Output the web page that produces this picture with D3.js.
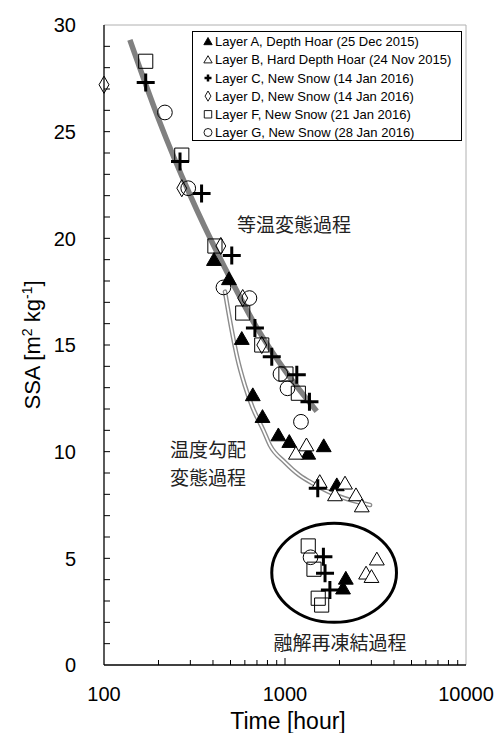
<!DOCTYPE html>
<html>
<head>
<meta charset="utf-8">
<script src="https://cdn.jsdelivr.net/npm/d3@7"></script>
<style>
  body { margin: 0; background: #fff; }
  svg text { font-family: "Liberation Sans", Arial, sans-serif; }
  .jp { font-family: "Noto Sans CJK JP", sans-serif; }
</style>
</head>
<body>
<div id="chart"></div>
<script>
const w = 499, h = 733;

// values: [time in hours, SSA]
const layerA = [[405, 19.0], [490, 18.1], [577, 15.3], [664, 12.66], [751, 11.64], [919, 10.78],
  [1056, 10.47], [1344, 9.92], [1637, 10.27], [1933, 8.44], [2168, 4.06], [2092, 3.6]];
const layerB = [[1314, 10.31], [1149, 9.92], [1556, 8.59], [2146, 8.52], [1889, 7.97], [2467, 7.97],
  [2656, 7.45], [3218, 4.96], [2805, 4.3], [3005, 4.14]];
const layerC = [[170, 27.3], [263, 23.6], [346, 22.1], [508, 19.2], [682, 15.8], [845, 14.45],
  [1162, 13.6], [1365, 12.34], [1517, 8.28], [1630, 5.08], [1664, 4.3], [1770, 3.52]];
const layerD = [[100, 27.2], [269, 22.35], [442, 19.64], [584, 17.2], [744, 15.0]];
const layerF = [[170, 28.3], [269, 23.9], [410, 19.64], [584, 16.5], [744, 15.0], [1012, 13.64],
  [1185, 12.74], [1344, 5.58], [1446, 4.49], [1526, 3.13], [1594, 2.81]];
const layerG = [[217, 25.9], [292, 22.35], [457, 17.7], [636, 17.2], [944, 13.64], [1032, 12.97],
  [1225, 11.4], [1384, 5.05]];

// hand drawn guide lines
const isoLine = [[139, 29.3], [200, 25.6], [300, 22.0], [500, 18.1], [700, 15.8], [1000, 13.8], [1497, 11.9]];
const tgLine = [[466, 17.5], [505, 15.8], [545, 14.4], [600, 13.1], [660, 12.1], [760, 11.0], [826, 10.3],
  [1000, 9.5], [1200, 8.9], [1434, 8.5], [2000, 7.9], [2950, 7.5]];
// melt-freeze ellipse: [x min, x max], [y min, y max]
const meltX = [845, 4130], meltY = [2.0, 6.65];

const legendLabels = [
  "Layer A, Depth Hoar (25 Dec 2015)",
  "Layer B, Hard Depth Hoar (24 Nov 2015)",
  "Layer C, New Snow (14 Jan 2016)",
  "Layer D, New Snow (14 Jan 2016)",
  "Layer F, New Snow (21 Jan 2016)",
  "Layer G, New Snow (28 Jan 2016)"
];
const xTicks = [100, 1000, 10000];
const yTicks = [0, 5, 10, 15, 20, 25, 30];

const x = d3.scaleLog().domain([100, 10000]).range([104, 466]);
const y = d3.scaleLinear().domain([0, 30]).range([665, 25]);

const svg = d3.select("#chart").append("svg").attr("width", w).attr("height", h);

// frame
svg.append("line").attr("x1", x(100)).attr("x2", x(10000)).attr("y1", y(30)).attr("y2", y(30))
  .attr("stroke", "#b0b0b0");
svg.append("line").attr("x1", x(10000)).attr("x2", x(10000)).attr("y1", y(30)).attr("y2", y(0))
  .attr("stroke", "#b0b0b0");

// y axis, ticks inside
const yMinor = d3.range(1, 30);
svg.append("g").selectAll("line").data(yMinor).join("line")
  .attr("x1", x(100)).attr("x2", x(100) + 6)
  .attr("y1", d => y(d)).attr("y2", d => y(d)).attr("stroke", "#000");
svg.append("line").attr("x1", x(100)).attr("x2", x(100)).attr("y1", y(30)).attr("y2", y(0))
  .attr("stroke", "#000").attr("stroke-width", 1.3);
svg.append("g").selectAll("text").data(yTicks).join("text")
  .attr("x", 76).attr("y", d => y(d)).attr("dy", "0.36em")
  .attr("text-anchor", "end").attr("font-size", 20).text(d => d);

// x axis, ticks inside
const xMinor = [];
[100, 1000].forEach(b => { for (let k = 2; k <= 9; k++) xMinor.push(b * k); });
svg.append("g").selectAll("line").data(xMinor).join("line")
  .attr("x1", d => x(d)).attr("x2", d => x(d))
  .attr("y1", y(0)).attr("y2", y(0) - 5).attr("stroke", "#000");
svg.append("line").attr("x1", x(1000)).attr("x2", x(1000)).attr("y1", y(0)).attr("y2", y(0) - 7)
  .attr("stroke", "#000");
svg.append("line").attr("x1", x(100)).attr("x2", x(10000)).attr("y1", y(0)).attr("y2", y(0))
  .attr("stroke", "#000").attr("stroke-width", 1.3);
svg.append("g").selectAll("text").data(xTicks).join("text")
  .attr("x", d => x(d)).attr("y", 701)
  .attr("text-anchor", "middle").attr("font-size", 20).text(d => d);

// axis titles
svg.append("text").attr("x", 288).attr("y", 729).attr("text-anchor", "middle")
  .attr("font-size", 23).text("Time [hour]");
const yt = svg.append("text").attr("transform", `translate(40,${(y(0) + y(30)) / 2}) rotate(-90)`)
  .attr("text-anchor", "middle").attr("font-size", 22);
yt.append("tspan").text("SSA [m");
yt.append("tspan").attr("font-size", 14).attr("dy", -8).text("2");
yt.append("tspan").attr("dy", 8).text(" kg");
yt.append("tspan").attr("font-size", 14).attr("dy", -8).text("-1");
yt.append("tspan").attr("dy", 8).text("]");

// guide lines
const line = d3.line().x(d => x(d[0])).y(d => y(d[1])).curve(d3.curveMonotoneX);
svg.append("path").attr("d", line(tgLine)).attr("fill", "none")
  .attr("stroke", "#8c8c8c").attr("stroke-width", 4.6).attr("stroke-linecap", "round");
svg.append("path").attr("d", line(tgLine)).attr("fill", "none")
  .attr("stroke", "#fff").attr("stroke-width", 1.8).attr("stroke-linecap", "round");
svg.append("path").attr("d", line(isoLine)).attr("fill", "none")
  .attr("stroke", "#808080").attr("stroke-width", 5.5);

// melt-freeze ellipse
svg.append("ellipse")
  .attr("cx", (x(meltX[0]) + x(meltX[1])) / 2).attr("cy", (y(meltY[0]) + y(meltY[1])) / 2)
  .attr("rx", (x(meltX[1]) - x(meltX[0])) / 2).attr("ry", (y(meltY[0]) - y(meltY[1])) / 2)
  .attr("fill", "none").attr("stroke", "#000").attr("stroke-width", 3);

// markers
const sym = {
  A: { type: d3.symbolTriangle, size: 95, fill: "#000", sw: 1 },
  B: { type: d3.symbolTriangle, size: 95, fill: "#fff", sw: 1 },
  C: { type: d3.symbolCross, size: 0, fill: "none", sw: 3 },
  D: { type: d3.symbolDiamond, size: 85, fill: "none", sw: 1 },
  F: { type: d3.symbolSquare, size: 200, fill: "none", sw: 1 },
  G: { type: d3.symbolCircle, size: 170, fill: "none", sw: 1 }
};

function plusPath(r) {
  return `M${-r},0H${r}M0,${-r}V${r}`;
}

function drawLayer(data, key) {
  const s = sym[key];
  const g = svg.append("g");
  g.selectAll("path").data(data).join("path")
    .attr("transform", d => `translate(${x(d[0])},${y(d[1]) + (s.type === d3.symbolTriangle ? 1.5 : 0)})`)
    .attr("d", key === "C" ? plusPath(9) : d3.symbol().type(s.type).size(s.size)())
    .attr("fill", s.fill).attr("stroke", "#000").attr("stroke-width", s.sw);
}
drawLayer(layerA, "A");
drawLayer(layerB, "B");
drawLayer(layerC, "C");
drawLayer(layerD, "D");
drawLayer(layerF, "F");
drawLayer(layerG, "G");

// annotations
svg.append("text").attr("class", "jp").attr("x", 237).attr("y", 232)
  .attr("font-size", 19).attr("fill", "#222").text("等温変態過程");
svg.append("text").attr("class", "jp").attr("x", 170).attr("y", 457)
  .attr("font-size", 19).attr("fill", "#222").text("温度勾配");
svg.append("text").attr("class", "jp").attr("x", 170).attr("y", 485)
  .attr("font-size", 19).attr("fill", "#222").text("変態過程");
svg.append("text").attr("class", "jp").attr("x", 340).attr("y", 650)
  .attr("text-anchor", "middle").attr("font-size", 19).attr("fill", "#222").text("融解再凍結過程");

// legend
const lg = svg.append("g");
lg.append("rect").attr("x", 192.5).attr("y", 31.5).attr("width", 269).attr("height", 109)
  .attr("fill", "#fff").attr("stroke", "#000");
const legKeys = ["A", "B", "C", "D", "F", "G"];
const legSym = {
  A: d3.symbol().type(d3.symbolTriangle).size(30)(),
  B: d3.symbol().type(d3.symbolTriangle).size(30)(),
  C: null,
  D: d3.symbol().type(d3.symbolDiamond).size(30)(),
  F: d3.symbol().type(d3.symbolSquare).size(55)(),
  G: d3.symbol().type(d3.symbolCircle).size(50)()
};
legKeys.forEach((k, i) => {
  const cy = 41.5 + i * 18.2;
  if (k === "C") {
    lg.append("path").attr("transform", `translate(208,${cy})`).attr("d", plusPath(3.5))
      .attr("stroke", "#000").attr("stroke-width", 2.5);
  } else {
    lg.append("path").attr("transform", `translate(208,${cy + (k === "A" || k === "B" ? 0.8 : 0)})`)
      .attr("d", legSym[k]).attr("fill", k === "A" ? "#000" : "#fff")
      .attr("stroke", "#000").attr("stroke-width", 0.9);
  }
  lg.append("text").attr("x", 215).attr("y", cy).attr("dy", "0.36em")
    .attr("font-size", 13).text(legendLabels[i]);
});
</script>
</body>
</html>
